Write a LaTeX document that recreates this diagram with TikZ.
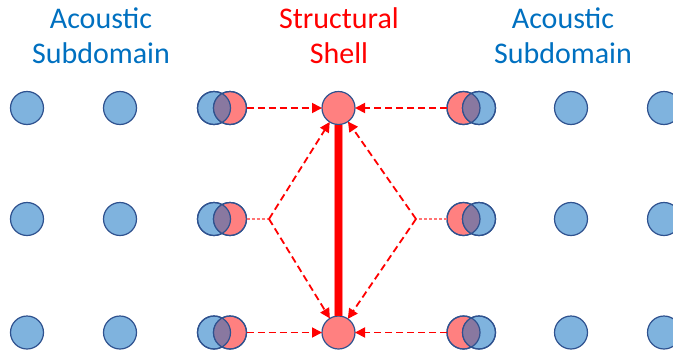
\documentclass[tikz,border=0pt]{standalone}
\usepackage{fontspec}
\setmainfont{Carlito}
\usepackage{tikz}
\usepackage{xcolor}
\usetikzlibrary{arrows.meta, positioning}
\usetikzlibrary{backgrounds}

\definecolor{fluidblue}{RGB}{127,179,222}
\definecolor{rimblue}{RGB}{47,82,143}
\definecolor{shellred}{RGB}{255,128,128}
\definecolor{mixpurple}{RGB}{137,120,160}
\definecolor{titleblue}{RGB}{0,112,192}

\tikzset{
  dof/.style={circle, minimum size=33pt, inner sep=0pt, outer sep=0pt,
              draw=rimblue, line width=1.2pt},
  fluid/.style={dof, fill=fluidblue},
  shelldof/.style={dof, fill=shellred},
  rim/.style={draw=rimblue, line width=1.2pt},
  title/.style={align=center, inner sep=0pt, anchor=north,
                font=\fontsize{30}{35}\selectfont},
}

\begin{document}
\begin{tikzpicture}[x=1pt, y=-1pt,
   link/.style={draw=red, line width=1.8pt, dash pattern=on 7pt off 4pt,
                -{Triangle[length=10pt,width=10pt,fill=red]}},
   hint/.style={draw=red!55, line width=1.3pt, dash pattern=on 3pt off 2pt},
   bar/.style={draw=red!45, line width=1pt, double=red, double distance=7pt}]
\useasboundingbox (0,0) rectangle (673,354);
%
\node[title, titleblue] (left)  at (101,7.5) {Acoustic\\Subdomain};
\node[title, red]       (shell) at (339,7.5) {Structural\\Shell};
\node[title, titleblue] (right) at (563,7.5) {Acoustic\\Subdomain};
%
\foreach \r/\y in {1/108, 2/219, 3/332.5} {
  \node[fluid]    (la\r) at (27,\y)  {};
  \node[fluid]    (lb\r) at (120,\y) {};
  \node[fluid]    (lc\r) at (214,\y) {};
  \node[shelldof] (lr\r) at (230,\y) {};
  \node[shelldof] (rr\r) at (463.5,\y) {};
  \node[fluid]    (rc\r) at (479,\y) {};
  \node[fluid]    (rb\r) at (571,\y) {};
  \node[fluid]    (ra\r) at (664,\y) {};
  % overlap of the coupled pairs
  \begin{scope}
    \clip (lc\r.center) circle (16.5pt);
    \fill[mixpurple] (lr\r.center) circle (16.5pt);
  \end{scope}
  \begin{scope}
    \clip (rc\r.center) circle (16.5pt);
    \fill[mixpurple] (rr\r.center) circle (16.5pt);
  \end{scope}
  \draw[rim] (lc\r.center) circle (16.5pt) (lr\r.center) circle (16.5pt);
  \draw[rim] (rc\r.center) circle (16.5pt) (rr\r.center) circle (16.5pt);
}
%
\node[shelldof] (s1) at (338.5,108) {};
\node[shelldof] (s3) at (338.5,332.5) {};
\draw[bar] (s1) -- (s3);
%
\coordinate (kl) at (269,219);
\coordinate (kr) at (416,219);
\draw[link] (lr1) -- (s1);
\draw[link] (rr1) -- (s1);
\draw[link] (lr3) -- (s3);
\draw[link] (rr3) -- (s3);
\draw[hint] (lr2) -- (kl);
\draw[hint] (rr2) -- (kr);
\draw[link] (kl) -- (s1);
\draw[link] (kl) -- (s3);
\draw[link] (kr) -- (s1);
\draw[link] (kr) -- (s3);
%
\end{tikzpicture}
\end{document}
